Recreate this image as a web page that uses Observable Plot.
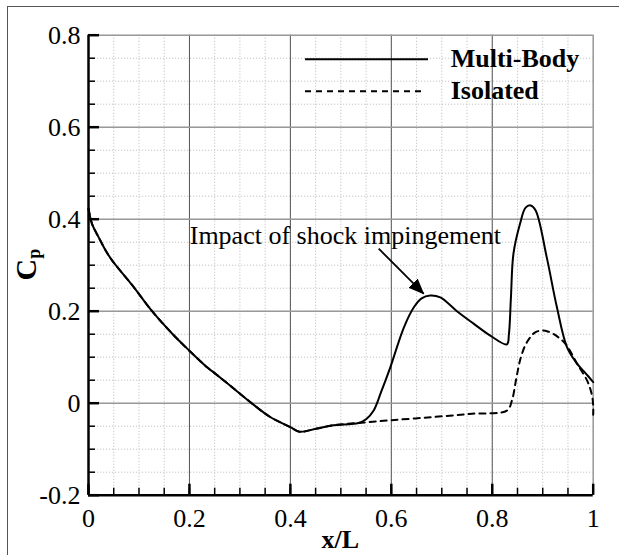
<!DOCTYPE html>
<html>
<head>
<meta charset="utf-8">
<script src="https://cdn.jsdelivr.net/npm/d3@7"></script>
<script src="https://cdn.jsdelivr.net/npm/@observablehq/plot@0.6"></script>
<style>
html, body { margin: 0; padding: 0; background: #fff; }
#wrap { position: relative; width: 619px; height: 555px; overflow: hidden; background: #fff; }
#wrap > svg { position: absolute; left: 0; top: 0; }
#mainplot text { font-family: "Liberation Serif", "Times New Roman", serif !important; }
#border { position: absolute; left: 7px; top: 6px; right: -5px; bottom: -5px;
  border-left: 1px solid #555; border-top: 1px solid #555; pointer-events: none; }
</style>
</head>
<body>
<div id="wrap"></div>
<script>
// ---- data ----
const seriesNames = ["Multi-Body", "Isolated"];

const multiX = [0, 0.007, 0.02, 0.034, 0.047, 0.06, 0.087, 0.126, 0.166, 0.199, 0.235, 0.248, 0.281, 0.321, 0.36, 0.40, 0.418, 0.453, 0.485, 0.535, 0.55, 0.565, 0.58, 0.598, 0.625, 0.645, 0.66, 0.677, 0.697, 0.73, 0.763, 0.796, 0.829, 0.833, 0.837, 0.842, 0.855, 0.866, 0.876, 0.886, 0.908, 0.928, 0.948, 0.968, 0.985, 1.0];
const multiY = [0.423, 0.39, 0.361, 0.332, 0.31, 0.292, 0.256, 0.2, 0.151, 0.115, 0.078, 0.067, 0.038, 0.002, -0.03, -0.052, -0.062, -0.055, -0.048, -0.043, -0.035, -0.016, 0.025, 0.078, 0.165, 0.209, 0.228, 0.234, 0.23, 0.2, 0.173, 0.147, 0.128, 0.15, 0.23, 0.325, 0.39, 0.425, 0.43, 0.419, 0.317, 0.209, 0.122, 0.086, 0.065, 0.046];

const isoX = [0, 0.007, 0.02, 0.034, 0.047, 0.06, 0.087, 0.126, 0.166, 0.199, 0.235, 0.248, 0.281, 0.321, 0.36, 0.40, 0.418, 0.453, 0.485, 0.535, 0.6, 0.684, 0.76, 0.829, 0.839, 0.847, 0.855, 0.865, 0.875, 0.885, 0.898, 0.91, 0.922, 0.945, 0.968, 0.988, 0.997, 1.0, 1.0];
const isoY = [0.423, 0.39, 0.361, 0.332, 0.31, 0.292, 0.256, 0.2, 0.151, 0.115, 0.078, 0.067, 0.038, 0.002, -0.03, -0.052, -0.062, -0.055, -0.048, -0.043, -0.037, -0.03, -0.023, -0.016, 0.006, 0.05, 0.093, 0.125, 0.143, 0.154, 0.158, 0.156, 0.15, 0.129, 0.086, 0.049, 0.02, -0.005, -0.025];

const xTicks = [0, 0.2, 0.4, 0.6, 0.8, 1];
const xTickLabels = ["0", "0.2", "0.4", "0.6", "0.8", "1"];
const yTicks = [-0.2, 0, 0.2, 0.4, 0.6, 0.8];
const yTickLabels = ["-0.2", "0", "0.2", "0.4", "0.6", "0.8"];
const minorX = d3.range(0, 21).map(i => +(i * 0.05).toFixed(2));
const minorY = d3.range(0, 21).map(i => +(-0.2 + i * 0.05).toFixed(2));
const majorGridX = [0.2, 0.4, 0.6, 0.8];
const majorGridY = [0, 0.2, 0.4, 0.6];

const xLabel = "x/L";
const yLabelMain = "C";
const yLabelSub = "p";

const annText = "Impact of shock impingement";
const annX = 0.2006, annY = 0.3465;
const arrowFrom = {x: 0.575, y: 0.336};
const arrowTo = {x: 0.664, y: 0.238};

// ---- build ----
const W = 619, H = 555;
const mL = 88, mR = 26.3, mT = 34.7, mB = 60.3;
const pxPerX = (W - mL - mR) / 1.0;
const pxPerY = (H - mT - mB) / 1.0;
const minorLenX = 7 / pxPerX, majorLenX = 11 / pxPerX;
const minorLenY = 7 / pxPerY, majorLenY = 11 / pxPerY;
const serif = '"Liberation Serif", "Times New Roman", serif';

const multi = multiX.map((x, i) => ({x, y: multiY[i]}));
const iso = isoX.map((x, i) => ({x, y: isoY[i]}));
const xLab = xTicks.map((v, i) => ({v, t: xTickLabels[i]}));
const yLab = yTicks.map((v, i) => ({v, t: yTickLabels[i]}));

const plot = Plot.plot({
  width: W, height: H,
  marginLeft: mL, marginRight: mR, marginTop: mT, marginBottom: mB,
  style: {fontFamily: serif, fontSize: "26px", background: "white", color: "black", overflow: "visible"},
  x: {domain: [0, 1], axis: null},
  y: {domain: [-0.2, 0.8], axis: null},
  marks: [
    Plot.ruleX(minorX, {stroke: "#c4c4c4", strokeDasharray: "1.2,1.8", strokeWidth: 1}),
    Plot.ruleY(minorY, {stroke: "#c4c4c4", strokeDasharray: "1.2,1.8", strokeWidth: 1}),
    Plot.ruleX(majorGridX, {stroke: "#555", strokeWidth: 1}),
    Plot.ruleY(majorGridY, {stroke: "#999", strokeWidth: 1.5}),
    Plot.ruleY([yTicks[yTicks.length - 1]], {stroke: "#999", strokeWidth: 1.5}),
    Plot.ruleX([xTicks[xTicks.length - 1]], {stroke: "#999", strokeWidth: 1.5}),
    // inward ticks
    Plot.ruleY(minorY, {y: d => d, x1: d => 0, x2: d => minorLenX, stroke: "black", strokeWidth: 1.5}),
    Plot.ruleY(yTicks, {y: d => d, x1: d => 0, x2: d => majorLenX, stroke: "black", strokeWidth: 2.5}),
    Plot.ruleX(minorX, {x: d => d, y1: d => -0.2, y2: d => -0.2 + minorLenY, stroke: "black", strokeWidth: 1.5}),
    Plot.ruleX(xTicks, {x: d => d, y1: d => -0.2, y2: d => -0.2 + majorLenY, stroke: "black", strokeWidth: 2.5}),
    // axes
    Plot.ruleX([0], {stroke: "black", strokeWidth: 2.5}),
    Plot.ruleY([-0.2], {stroke: "black", strokeWidth: 2.5}),
    // tick labels
    Plot.text(xLab, {x: "v", y: d => -0.2, text: "t", lineAnchor: "top", textAnchor: "middle", dy: 13, fontSize: 26, fontFamily: serif, fill: "black"}),
    Plot.text(yLab, {x: d => 0, y: "v", text: "t", textAnchor: "end", lineAnchor: "middle", dx: -8, fontSize: 26, fontFamily: serif, fill: "black"}),
    // curves
    Plot.line(iso, {x: "x", y: "y", stroke: "black", strokeWidth: 2, strokeDasharray: "6,5", curve: "catmull-rom"}),
    Plot.line(multi, {x: "x", y: "y", stroke: "black", strokeWidth: 2, curve: "catmull-rom"}),
    // annotation
    Plot.text([{x: annX, y: annY, t: annText}], {x: "x", y: "y", text: "t", textAnchor: "start", lineAnchor: "bottom", fontSize: 26, fontFamily: serif, fill: "black"}),
    Plot.link([{x1: arrowFrom.x, y1: arrowFrom.y, x2: arrowTo.x, y2: arrowTo.y}], {x1: "x1", y1: "y1", x2: "x2", y2: "y2", stroke: "black", strokeWidth: 1.8})
  ]
});
plot.setAttribute("id", "mainplot");

const wrap = document.getElementById("wrap");
wrap.appendChild(plot);

// filled arrowhead on the link
const svgSel = d3.select(plot);
const defs = svgSel.insert("defs", ":first-child");
defs.append("marker")
  .attr("id", "ahead").attr("markerUnits", "userSpaceOnUse")
  .attr("viewBox", "0 0 16 13").attr("refX", 15).attr("refY", 6.5)
  .attr("markerWidth", 16).attr("markerHeight", 13).attr("orient", "auto")
  .append("path").attr("d", "M0,0L16,6.5L0,13Z").attr("fill", "black");
svgSel.selectAll('g[aria-label="link"] path').attr("marker-end", "url(#ahead)");

// overlay: axis titles and legend
const ov = d3.select(wrap).append("svg")
  .attr("width", W).attr("height", H)
  .style("position", "absolute").style("left", "0px").style("top", "0px")
  .style("pointer-events", "none")
  .style("font-family", serif);

ov.append("text")
  .attr("x", mL + (W - mL - mR) / 2).attr("y", 548)
  .attr("text-anchor", "middle").attr("font-weight", "bold").attr("font-size", 26)
  .text(xLabel);

const cp = ov.append("text")
  .attr("transform", `translate(36,${mT + (H - mT - mB) / 2}) rotate(-90)`)
  .attr("text-anchor", "middle").attr("font-weight", "bold").attr("font-size", 30);
cp.append("tspan").text(yLabelMain);
cp.append("tspan").attr("font-size", 18).attr("dy", 4).text(yLabelSub);

const legendStyles = [{dash: null, x2: 428}, {dash: "6,5", x2: 423}];
seriesNames.forEach((name, i) => {
  const ly = 59.3 + i * 32;
  const ln = ov.append("line").attr("x1", 305).attr("x2", legendStyles[i].x2)
    .attr("y1", ly).attr("y2", ly).attr("stroke", "black").attr("stroke-width", 2);
  if (legendStyles[i].dash) ln.attr("stroke-dasharray", legendStyles[i].dash);
  ov.append("text").attr("x", 450.7).attr("y", 66.7 + i * 32.3)
    .attr("font-weight", "bold").attr("font-size", 26).text(name);
});

const border = document.createElement("div");
border.id = "border";
wrap.appendChild(border);
</script>
</body>
</html>
